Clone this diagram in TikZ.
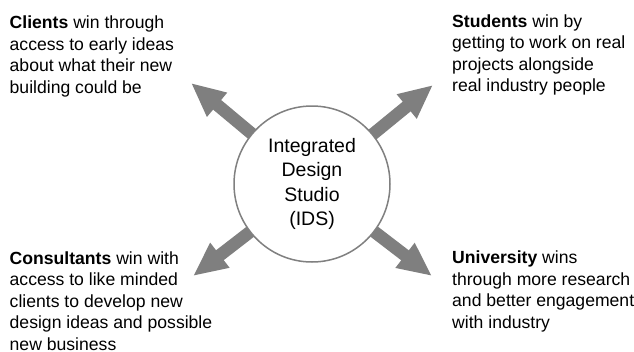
\documentclass[tikz,border=0pt]{standalone}
\usepackage{fontspec}
\setmainfont{Liberation Sans}
\usetikzlibrary{arrows.meta,backgrounds}
\definecolor{arrowgray}{RGB}{127,127,127}
\definecolor{ringgray}{RGB}{128,128,128}

\begin{document}
\begin{tikzpicture}[x=1pt,y=-1pt,
    hub/.style={circle,draw=ringgray,line width=1.5pt,fill=white,
      minimum size=156pt,inner sep=0pt,align=center,
      font=\fontsize{19.5}{24.3}\selectfont},
    winner/.style={anchor=base west,inner sep=0pt,align=left,
      font=\fontsize{17.6}{21.5}\selectfont},
    fatarrow/.style={draw=arrowgray,line width=12.5pt,
      -{Triangle[length=34pt,width=29pt]}}]
            \useasboundingbox (0,0) rectangle (634,351);

            \node[hub] (ids) at (312,184) {Integrated\\Design\\Studio\\(IDS)};

            %arrow tips
            \coordinate (clients tip) at (191,83);
            \coordinate (students tip) at (433,85);
            \coordinate (consultants tip) at (193,276);
            \coordinate (university tip) at (432,276);

            %arrows
            \begin{scope}[on background layer]
                \foreach \t in {clients,students,consultants,university}
                    \draw[fatarrow] (ids.center) -- (\t\space tip);
            \end{scope}

            %texts (placed at the baseline of the last line)
            \node[winner] (clients) at (9.5,93)
                {\textbf{Clients} win through\\access to early ideas\\about what their new\\building could be};
            \node[winner] (students) at (452,91.7)
                {\textbf{Students} win by\\getting to work on real\\projects alongside\\real industry people};
            \node[winner] (consultants) at (9.5,350)
                {\textbf{Consultants} win with\\access to like minded\\clients to develop new\\design ideas and possible\\new business};
            \node[winner] (university) at (452,328.3)
                {\textbf{University} wins\\through more research\\and better engagement\\with industry};
\end{tikzpicture}
\end{document}
